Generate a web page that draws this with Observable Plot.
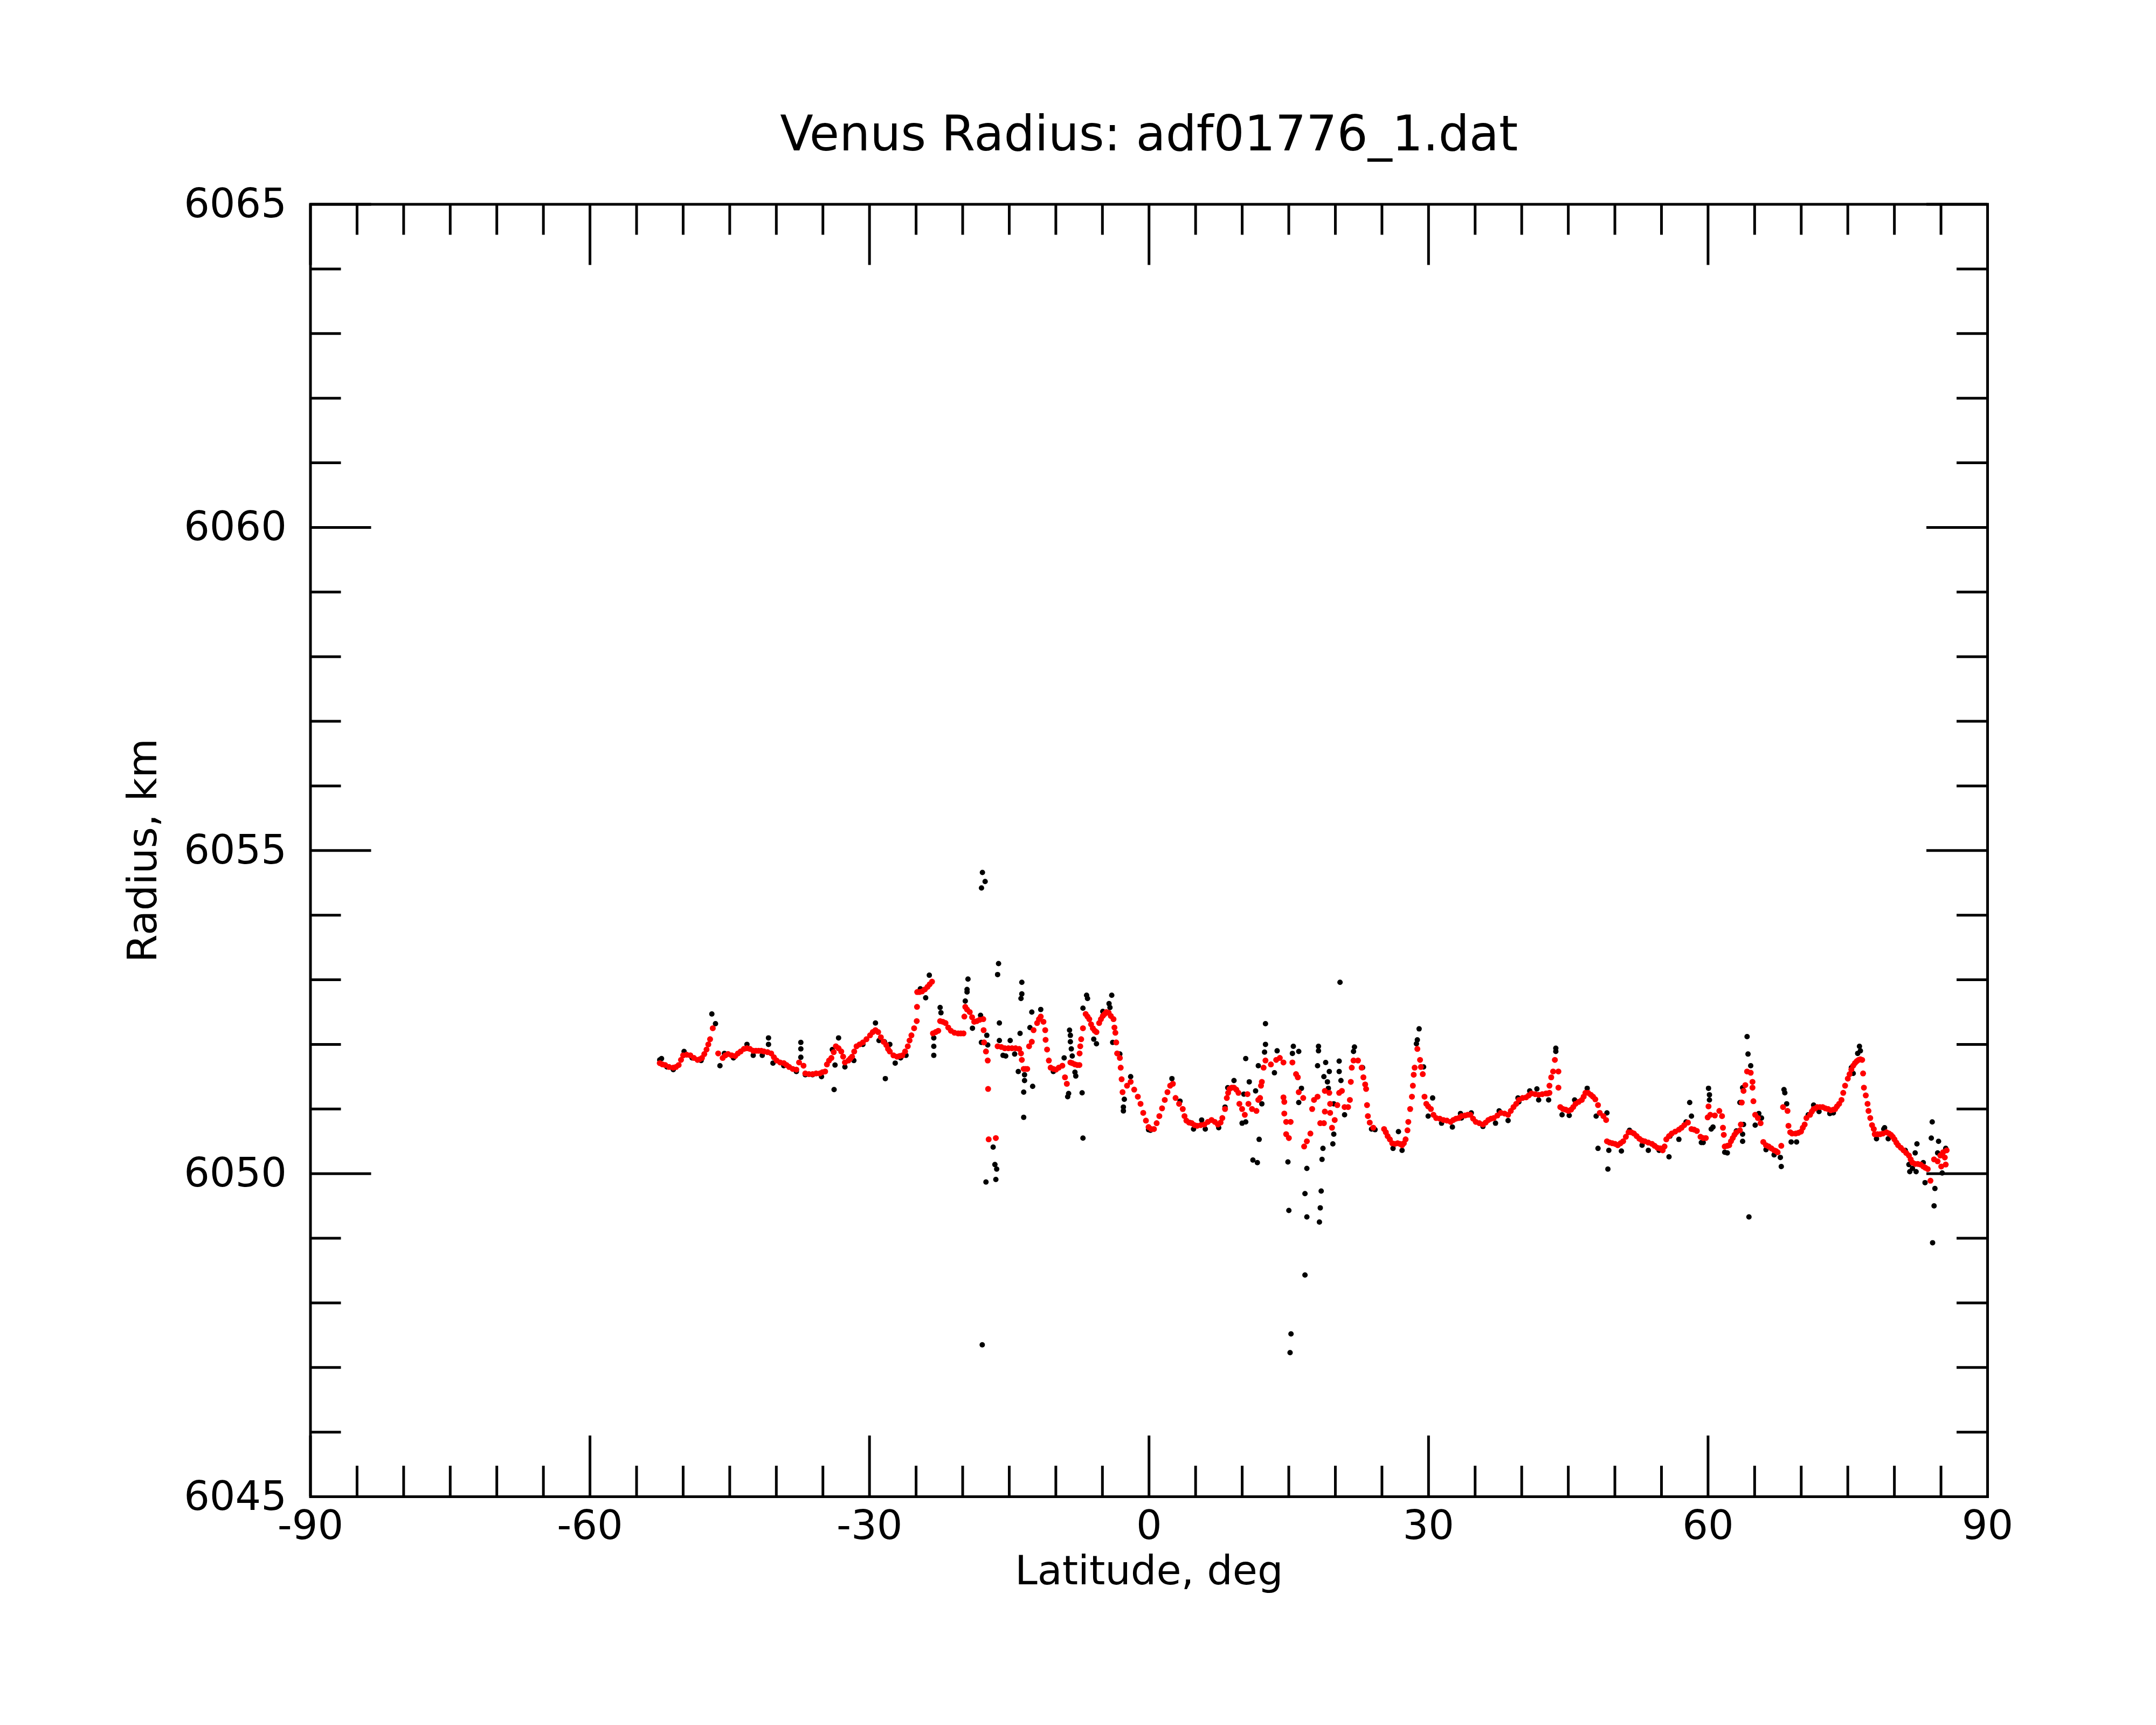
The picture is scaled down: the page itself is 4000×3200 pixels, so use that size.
<!DOCTYPE html>
<html>
<head>
<meta charset="utf-8">
<script src="https://cdn.jsdelivr.net/npm/d3@7"></script>
<script src="https://cdn.jsdelivr.net/npm/@observablehq/plot@0.6"></script>
<style>
html, body { margin: 0; padding: 0; background: #ffffff; }
#chart svg { display: block; }
</style>
</head>
<body>
<div id="chart"></div>
<script>
// ---- text ----
const title = "Venus Radius: adf01776_1.dat";
const xLabel = "Latitude, deg";
const yLabel = "Radius, km";

// ---- ticks ----
const xMajorTicks = [-90, -60, -30, 0, 30, 60, 90];
const xMinorTicks = [-85, -80, -75, -70, -65, -55, -50, -45, -40, -35, -25, -20, -15, -10, -5,
                     5, 10, 15, 20, 25, 35, 40, 45, 50, 55, 65, 70, 75, 80, 85];
const yMajorTicks = [6045, 6050, 6055, 6060, 6065];
const yMinorTicks = [6046, 6047, 6048, 6049, 6051, 6052, 6053, 6054, 6056, 6057, 6058, 6059,
                     6061, 6062, 6063, 6064];

// ---- red series: [latitude (deg), radius (km)] ----
const redPoints = [
  [-52.51,6051.71],[-52.22,6051.69],[-51.93,6051.68],[-51.51,6051.65],[-51.06,6051.64],[-50.77,6051.65],
  [-50.48,6051.68],[-50.23,6051.76],[-50.00,6051.83],[-49.62,6051.84],[-49.23,6051.83],[-48.84,6051.79],
  [-48.46,6051.76],[-48.23,6051.77],[-47.98,6051.79],[-47.73,6051.85],[-47.49,6051.92],[-47.30,6052.00],
  [-47.11,6052.08],[-46.82,6052.25],[-46.24,6051.86],[-45.76,6051.79],[-45.47,6051.83],[-45.18,6051.85],
  [-44.79,6051.83],[-44.41,6051.82],[-44.12,6051.86],[-43.83,6051.89],[-43.48,6051.93],[-43.15,6051.94],
  [-42.83,6051.93],[-42.48,6051.90],[-42.19,6051.90],[-41.90,6051.90],[-41.61,6051.90],[-41.32,6051.89],
  [-40.94,6051.88],[-40.55,6051.86],[-40.26,6051.80],[-39.97,6051.75],[-39.59,6051.72],[-39.20,6051.71],
  [-38.91,6051.68],[-38.62,6051.65],[-38.24,6051.62],[-37.85,6051.61],[-37.56,6051.72],[-37.08,6051.67],
  [-36.89,6051.55],[-36.50,6051.54],[-36.11,6051.54],[-35.73,6051.55],[-35.34,6051.55],[-35.05,6051.57],
  [-34.76,6051.58],[-34.57,6051.69],[-34.34,6051.75],[-34.09,6051.79],[-33.84,6051.88],[-33.61,6051.97],
  [-33.32,6051.94],[-33.03,6051.89],[-32.83,6051.81],[-32.64,6051.72],[-32.26,6051.75],[-32.06,6051.78],
  [-31.87,6051.81],[-31.64,6051.89],[-31.39,6051.97],[-31.06,6052.00],[-30.71,6052.03],[-30.33,6052.08],
  [-29.94,6052.14],[-29.65,6052.19],[-29.36,6052.22],[-29.07,6052.19],[-28.78,6052.11],[-28.49,6052.04],
  [-28.20,6051.99],[-28.01,6051.93],[-27.82,6051.89],[-27.43,6051.83],[-27.05,6051.81],[-26.76,6051.82],
  [-26.47,6051.83],[-26.18,6051.89],[-25.89,6051.97],[-25.70,6052.06],[-25.50,6052.14],[-25.21,6052.25],
  [-24.93,6052.36],[-24.90,6052.58],[-24.88,6052.81],[-24.64,6052.81],[-24.35,6052.82],[-24.06,6052.85],
  [-23.77,6052.89],[-23.54,6052.93],[-23.29,6052.97],[-23.19,6052.17],[-22.90,6052.19],[-22.62,6052.21],
  [-22.42,6052.36],[-22.13,6052.35],[-21.84,6052.33],[-21.55,6052.26],[-21.26,6052.21],[-20.88,6052.18],
  [-20.49,6052.17],[-20.20,6052.17],[-19.91,6052.17],[-19.82,6052.43],[-19.72,6052.58],[-19.53,6052.54],
  [-19.24,6052.50],[-18.99,6052.42],[-18.76,6052.35],[-18.47,6052.36],[-18.18,6052.38],[-17.79,6052.39],
  [-17.75,6052.22],[-17.70,6052.03],[-17.50,6051.89],[-17.31,6051.75],[-17.27,6051.31],[-17.21,6050.53],
  [-16.44,6050.55],[-16.25,6051.97],[-15.86,6051.96],[-15.48,6051.94],[-15.09,6051.94],[-14.71,6051.94],
  [-14.32,6051.94],[-13.93,6051.93],[-13.74,6051.86],[-13.65,6051.76],[-13.45,6051.62],[-13.26,6051.62],
  [-13.07,6051.62],[-12.87,6051.97],[-12.58,6052.04],[-12.39,6052.22],[-12.01,6052.33],[-11.81,6052.39],
  [-11.62,6052.43],[-11.33,6052.35],[-11.14,6052.22],[-11.10,6052.07],[-10.94,6051.92],[-10.75,6051.75],
  [-10.56,6051.64],[-10.27,6051.62],[-9.98,6051.61],[-9.69,6051.64],[-9.30,6051.67],[-9.02,6051.49],
  [-8.82,6051.39],[-8.44,6051.72],[-8.24,6051.71],[-7.95,6051.69],[-7.70,6051.68],[-7.47,6051.68],
  [-7.45,6051.86],[-7.38,6051.97],[-7.28,6052.08],[-7.09,6052.25],[-6.80,6052.47],[-6.60,6052.43],
  [-6.41,6052.39],[-6.22,6052.31],[-6.03,6052.25],[-5.83,6052.21],[-5.64,6052.19],[-5.35,6052.33],
  [-5.16,6052.39],[-4.96,6052.44],[-4.77,6052.47],[-4.58,6052.50],[-4.33,6052.49],[-4.10,6052.44],
  [-3.81,6052.39],[-3.71,6052.26],[-3.61,6052.18],[-3.52,6052.03],[-3.42,6051.86],[-3.13,6051.79],
  [-3.04,6051.64],[-2.94,6051.46],[-2.84,6051.26],[-2.36,6051.36],[-1.97,6051.42],[-1.59,6051.30],
  [-1.20,6051.19],[-0.91,6051.08],[-0.62,6050.94],[-0.33,6050.82],[-0.05,6050.72],[0.24,6050.69],
  [0.53,6050.69],[0.82,6050.78],[1.11,6050.89],[1.40,6051.01],[1.69,6051.14],[1.98,6051.26],
  [2.27,6051.36],[2.56,6051.39],[2.85,6051.17],[3.23,6051.08],[3.62,6051.00],[3.81,6050.89],
  [4.01,6050.82],[4.30,6050.79],[4.59,6050.78],[4.88,6050.75],[5.17,6050.74],[5.55,6050.75],
  [5.94,6050.76],[6.32,6050.80],[6.71,6050.83],[7.06,6050.80],[7.39,6050.76],[7.68,6050.79],
  [7.87,6050.86],[8.16,6051.00],[8.35,6051.17],[8.49,6051.25],[8.64,6051.31],[8.87,6051.33],
  [9.12,6051.33],[9.37,6051.30],[9.60,6051.25],[9.70,6051.08],[9.99,6051.00],[10.28,6050.91],
  [10.67,6051.08],[10.57,6051.23],[11.05,6051.00],[11.53,6050.97],[11.73,6051.14],[11.92,6051.17],
  [12.02,6051.36],[12.11,6051.42],[12.30,6051.64],[12.50,6051.75],[13.08,6051.69],[13.65,6051.76],
  [14.04,6051.79],[14.43,6051.72],[14.43,6051.18],[14.52,6051.11],[14.52,6050.93],[14.72,6050.80],
  [15.20,6050.80],[14.72,6050.61],[15.01,6050.55],[15.39,6051.72],[15.78,6051.54],[15.97,6051.49],
  [16.07,6051.26],[16.55,6051.17],[16.65,6050.42],[16.94,6050.50],[17.32,6050.62],[17.51,6051.00],
  [17.71,6051.14],[18.09,6051.19],[18.38,6050.78],[18.77,6050.78],[18.87,6051.28],[19.35,6051.25],
  [18.87,6050.96],[19.44,6051.08],[19.44,6050.94],[19.64,6050.71],[19.93,6050.83],[20.21,6051.06],
  [20.41,6051.25],[20.70,6051.28],[20.99,6051.03],[21.37,6051.03],[21.56,6051.14],[21.66,6051.42],
  [21.76,6051.64],[21.95,6051.75],[22.43,6051.75],[22.82,6051.64],[23.01,6051.49],[23.20,6051.38],
  [23.30,6051.31],[23.40,6051.06],[23.49,6050.89],[23.69,6050.79],[24.07,6050.71],[25.23,6050.69],
  [25.42,6050.64],[25.61,6050.58],[25.85,6050.53],[26.10,6050.47],[26.39,6050.46],[26.68,6050.47],
  [26.93,6050.46],[27.16,6050.44],[27.35,6050.47],[27.54,6050.53],[27.74,6050.67],[27.83,6050.80],
  [28.03,6051.00],[28.22,6051.19],[28.32,6051.36],[28.41,6051.53],[28.51,6051.64],[28.80,6051.93],
  [29.09,6051.76],[29.18,6051.65],[29.38,6051.54],[29.57,6051.19],[29.76,6051.08],[29.96,6051.04],
  [30.25,6051.00],[30.53,6050.91],[30.82,6050.86],[31.21,6050.85],[31.60,6050.83],[31.98,6050.82],
  [32.37,6050.80],[32.66,6050.83],[32.95,6050.85],[33.24,6050.86],[33.53,6050.89],[33.91,6050.90],
  [34.20,6050.91],[34.49,6050.91],[34.78,6050.85],[35.07,6050.80],[35.46,6050.78],[35.84,6050.76],
  [36.13,6050.79],[36.42,6050.83],[36.71,6050.85],[37.00,6050.86],[37.39,6050.90],[37.77,6050.94],
  [38.16,6050.93],[38.54,6050.91],[38.83,6050.97],[39.12,6051.03],[39.41,6051.08],[39.70,6051.14],
  [40.09,6051.17],[40.47,6051.18],[40.76,6051.21],[41.05,6051.24],[41.44,6051.23],[41.82,6051.22],
  [42.21,6051.23],[42.60,6051.24],[42.79,6051.24],[42.98,6051.25],[42.98,6051.36],[43.17,6051.49],
  [43.37,6051.58],[43.56,6051.76],[43.94,6051.58],[43.94,6051.33],[44.14,6051.03],[44.43,6051.00],
  [44.72,6050.99],[45.01,6050.97],[45.30,6050.99],[45.53,6051.03],[45.78,6051.08],[46.11,6051.11],
  [46.45,6051.14],[46.65,6051.19],[46.84,6051.25],[47.13,6051.25],[47.42,6051.22],[47.65,6051.19],
  [47.90,6051.15],[48.19,6051.06],[48.38,6050.94],[48.77,6050.89],[49.06,6050.83],[49.15,6050.50],
  [49.44,6050.48],[49.73,6050.47],[50.02,6050.46],[50.31,6050.44],[50.60,6050.47],[50.89,6050.50],
  [51.18,6050.57],[51.47,6050.64],[51.76,6050.64],[52.05,6050.62],[52.34,6050.58],[52.63,6050.54],
  [52.92,6050.51],[53.21,6050.50],[53.59,6050.48],[53.98,6050.46],[54.27,6050.43],[54.56,6050.40],
  [54.85,6050.39],[55.13,6050.36],[55.33,6050.42],[55.52,6050.53],[55.81,6050.58],[56.10,6050.62],
  [56.48,6050.65],[56.87,6050.68],[57.16,6050.71],[57.45,6050.75],[57.84,6050.79],[58.22,6050.69],
  [58.51,6050.68],[58.80,6050.66],[59.19,6050.57],[59.48,6050.55],[59.76,6050.55],[60.05,6051.04],
  [59.96,6050.87],[60.24,6050.91],[60.73,6050.90],[61.21,6050.97],[61.50,6050.89],[61.60,6050.71],
  [61.69,6050.60],[61.79,6050.42],[62.07,6050.43],[62.27,6050.44],[62.46,6050.50],[62.65,6050.55],
  [62.84,6050.60],[63.04,6050.64],[63.42,6050.67],[63.52,6050.76],[63.62,6051.10],[63.81,6051.28],
  [64.00,6051.37],[64.19,6051.58],[64.58,6051.56],[64.77,6051.42],[64.77,6051.33],[64.87,6051.12],
  [65.06,6050.91],[65.35,6050.86],[65.64,6050.78],[65.93,6050.49],[66.22,6050.44],[66.51,6050.42],
  [66.80,6050.39],[67.09,6050.36],[67.28,6050.35],[67.47,6050.33],[67.86,6050.43],[68.05,6051.03],
  [68.53,6050.97],[68.63,6050.74],[68.82,6050.64],[69.02,6050.62],[69.40,6050.62],[69.69,6050.63],
  [69.98,6050.65],[70.17,6050.71],[70.37,6050.76],[70.56,6050.86],[70.95,6050.91],[71.14,6050.96],
  [71.33,6051.00],[71.53,6051.01],[71.72,6051.03],[72.01,6051.03],[72.30,6051.03],[72.59,6051.01],
  [72.88,6051.00],[73.17,6050.98],[73.45,6050.99],[73.65,6051.00],[73.84,6051.04],[74.07,6051.08],
  [74.32,6051.14],[74.51,6051.25],[74.71,6051.36],[75.00,6051.47],[75.19,6051.54],[75.38,6051.61],
  [75.58,6051.67],[75.77,6051.71],[75.96,6051.74],[76.16,6051.76],[76.35,6051.77],[76.54,6051.76],
  [76.64,6051.55],[76.73,6051.33],[76.93,6051.21],[77.12,6051.08],[77.22,6050.97],[77.41,6050.86],
  [77.60,6050.75],[77.79,6050.69],[77.89,6050.61],[78.18,6050.61],[78.47,6050.61],[78.76,6050.62],
  [79.15,6050.64],[79.43,6050.62],[79.63,6050.60],[79.82,6050.57],[80.01,6050.53],[80.21,6050.48],
  [80.40,6050.44],[80.69,6050.40],[80.98,6050.36],[81.27,6050.32],[81.56,6050.28],[81.75,6050.22],
  [81.94,6050.17],[82.23,6050.15],[82.52,6050.15],[82.81,6050.14],[83.10,6050.11],[83.33,6050.09],
  [83.58,6050.07],[83.87,6049.89],[84.26,6050.22],[84.64,6050.19],[84.93,6050.28],[85.03,6050.11],
  [85.22,6050.33],[85.41,6050.25],[85.51,6050.14],[85.61,6050.36]
];

// ---- black series: [latitude (deg), radius (km)] ----
const blackPoints = [
  [-52.51,6051.76],[-52.32,6051.78],[-51.74,6051.65],[-51.06,6051.61],[-49.90,6051.89],[-49.04,6051.79],
  [-48.07,6051.75],[-46.92,6052.47],[-46.53,6052.32],[-46.05,6051.67],[-45.57,6051.86],[-44.60,6051.79],
  [-43.15,6052.00],[-42.48,6051.83],[-41.51,6051.83],[-40.84,6052.10],[-40.84,6052.00],[-40.36,6051.71],
  [-39.20,6051.67],[-37.85,6051.58],[-37.37,6052.03],[-37.37,6051.93],[-37.37,6051.80],[-36.89,6051.53],
  [-36.11,6051.53],[-35.15,6051.50],[-33.99,6051.92],[-33.80,6051.30],[-33.70,6051.68],[-33.32,6052.10],
  [-32.64,6051.65],[-31.68,6051.75],[-30.71,6052.00],[-29.36,6052.33],[-28.98,6052.06],[-28.40,6052.04],
  [-28.30,6051.47],[-27.82,6052.00],[-27.24,6051.71],[-26.66,6051.79],[-26.08,6051.83],
  [-24.54,6052.86],[-23.97,6052.72],[-23.58,6053.07],[-23.10,6052.10],[-23.10,6051.97],[-23.10,6051.83],
  [-22.42,6052.57],[-22.33,6052.49],[-19.72,6052.67],[-19.53,6052.85],[-19.53,6052.81],[-19.43,6053.01],
  [-18.95,6052.25],[-18.08,6052.45],[-17.99,6052.03],[-17.41,6052.14],[-17.31,6051.99],[-16.73,6050.41],
  [-16.54,6050.14],[-16.35,6050.07],[-16.44,6049.91],[-17.50,6049.87],[-17.90,6047.35],
  [-17.88,6054.66],[-17.59,6054.52],[-17.98,6054.42],[-16.15,6053.25],[-16.25,6053.08],
  [-16.06,6052.33],[-16.06,6052.06],[-15.67,6051.83],[-15.38,6051.82],[-14.90,6052.06],[-14.42,6051.85],
  [-14.03,6051.58],[-13.84,6052.17],[-13.74,6052.71],[-13.65,6052.96],[-13.65,6052.78],[-13.45,6050.87],
  [-13.45,6051.26],[-13.36,6051.44],[-13.36,6051.53],[-12.78,6052.26],[-12.58,6052.50],[-12.49,6051.35],
  [-11.62,6052.54],[-10.27,6051.58],[-9.11,6051.79],[-8.73,6051.19],[-8.63,6051.24],[-8.53,6052.22],
  [-8.44,6052.14],[-8.44,6052.04],[-8.34,6051.93],[-8.24,6051.82],[-7.95,6051.57],[-7.86,6051.51],
  [-7.18,6051.25],[-7.09,6050.55],[-7.09,6052.56],[-6.70,6052.76],[-6.60,6052.71],[-5.93,6052.08],
  [-5.64,6052.01],[-4.96,6052.51],[-4.29,6052.63],[-4.19,6052.57],[-4.00,6052.76],[-3.90,6052.03],
  [-3.13,6051.85],[-2.75,6051.03],[-2.75,6050.97],[-2.65,6051.15],[-1.97,6051.50],[-0.05,6050.68],
  [0.15,6050.67],[2.46,6051.47],[3.33,6051.12],
  [4.40,6050.79],[4.78,6050.69],[5.65,6050.83],[6.04,6050.69],[7.48,6050.71],[8.16,6051.03],
  [8.45,6051.33],[9.12,6051.44],[9.99,6050.78],[10.18,6051.23],[10.38,6050.80],[10.38,6051.78],
  [10.76,6051.42],[11.15,6050.21],[11.44,6051.28],[11.63,6050.17],[11.73,6051.67],[11.82,6050.53],
  [12.11,6051.08],[12.40,6051.88],[12.50,6052.00],[12.50,6052.32],[13.46,6051.56],[13.75,6051.90],
  [14.91,6050.18],[15.01,6049.43],[15.14,6047.23],[15.24,6047.52],[15.39,6051.86],[15.49,6051.97],
  [16.07,6051.89],[16.07,6051.10],[16.36,6051.32],[16.74,6049.69],[16.74,6048.43],[16.94,6050.08],
  [16.94,6049.33],[18.09,6051.67],[18.19,6051.97],[18.19,6051.90],[18.29,6049.25],[18.38,6049.47],
  [18.48,6049.73],[18.57,6050.22],[18.67,6050.39],[18.77,6051.50],[18.96,6051.72],[19.15,6051.42],
  [19.25,6051.32],[19.35,6051.58],[19.73,6050.46],[19.83,6050.61],[19.83,6051.08],[20.41,6051.74],
  [20.41,6051.58],[20.50,6052.96],[20.60,6051.44],[20.99,6050.91],[21.95,6051.89],[22.05,6051.96],
  [22.92,6051.64],[23.88,6050.69],[24.26,6050.68],[26.19,6050.39],[26.77,6050.65],[27.16,6050.36],
  [28.70,6052.01],[28.80,6052.07],[28.99,6052.24],[29.47,6051.65],[29.96,6050.89],[30.44,6051.17],
  [31.40,6050.78],[32.56,6050.72],
  [33.43,6050.93],[33.53,6050.86],[34.59,6050.94],[35.84,6050.73],[37.19,6050.78],[37.58,6050.97],
  [38.54,6050.82],[39.60,6051.17],[39.70,6051.11],[40.86,6051.28],[41.63,6051.31],[41.82,6051.14],
  [42.89,6051.14],[43.66,6051.94],[43.66,6051.89],[44.33,6050.91],[45.10,6050.90],[45.68,6051.14],
  [47.03,6051.32],[47.99,6050.89],[48.19,6050.39],[49.15,6050.94],[49.25,6050.07],[49.35,6050.36],
  [50.70,6050.35],[51.57,6050.67],[52.92,6050.44],[53.59,6050.36],[54.75,6050.36],[55.81,6050.26],
  [55.91,6050.58],[56.87,6050.53],[57.64,6050.80],[58.03,6051.10],[58.22,6050.89],[59.28,6050.48],
  [59.48,6050.48],[60.05,6051.32],[60.15,6051.22],[60.15,6051.14],[60.34,6050.69],[60.53,6050.72],
  [61.79,6050.33],
  [62.07,6050.32],[63.04,6050.66],[63.42,6051.10],[63.71,6051.33],[63.71,6050.61],[63.71,6050.50],
  [63.81,6050.76],[64.19,6052.12],[64.29,6051.85],[64.39,6049.33],[64.58,6051.67],[65.06,6050.75],
  [65.45,6050.93],[65.74,6050.86],[66.22,6050.37],[67.09,6050.29],[67.76,6050.25],[67.86,6050.11],
  [68.15,6051.30],[68.24,6051.25],[68.44,6051.08],[68.92,6050.49],[69.50,6050.49],[70.75,6050.91],
  [71.33,6051.06],[71.91,6050.96],[73.07,6050.93],[73.45,6050.94],[75.38,6051.64],[75.58,6051.55],
  [76.06,6051.86],[76.25,6051.97],[76.35,6051.90],[78.08,6050.54],[78.86,6050.69],[78.95,6050.71],
  [79.34,6050.54],[81.17,6050.36],[81.56,6050.14],[81.65,6050.03],[81.94,6050.08],[82.23,6050.32],
  [82.33,6050.03],[82.42,6050.46],[83.10,6050.17],[83.29,6049.86],[83.96,6050.55],[84.06,6050.80],
  [84.10,6048.93],[84.26,6049.50],[84.35,6049.77],[84.64,6050.32],[84.74,6050.50],[85.13,6050.01],
  [85.51,6050.39]
];

// ---- layout / style ----
const W = 4000, H = 3200;
const mL = 575.5, mR = 313, mT = 378.5, mB = 424;
const innerW = W - mL - mR, innerH = H - mT - mB;
const majorLen = 113, minorLen = 57, lineW = 5;
const font = "DejaVu Sans";

const red = redPoints.map(([lat, r]) => ({lat, r}));
const black = blackPoints.map(([lat, r]) => ({lat, r}));
const tickStyle = {stroke: "black", strokeWidth: lineW};

const chart = Plot.plot({
  width: W,
  height: H,
  marginLeft: mL,
  marginRight: mR,
  marginTop: mT,
  marginBottom: mB,
  style: {fontFamily: font, fontSize: "75px", background: "white", color: "black"},
  x: {domain: [-90, 90], axis: null},
  y: {domain: [6045, 6065], axis: null},
  marks: [
    Plot.dot(black, {x: "lat", y: "r", r: 5, fill: "black", stroke: "none"}),
    Plot.dot(red, {x: "lat", y: "r", r: 5.5, fill: "#ff0000", stroke: "none"}),
    // bottom ticks (inward)
    Plot.ruleX(xMajorTicks, {x: d => d, insetTop: innerH - majorLen, ...tickStyle}),
    Plot.ruleX(xMinorTicks, {x: d => d, insetTop: innerH - minorLen, ...tickStyle}),
    // top ticks (inward)
    Plot.ruleX(xMajorTicks, {x: d => d, insetBottom: innerH - majorLen, ...tickStyle}),
    Plot.ruleX(xMinorTicks, {x: d => d, insetBottom: innerH - minorLen, ...tickStyle}),
    // left ticks (inward)
    Plot.ruleY(yMajorTicks, {y: d => d, insetRight: innerW - majorLen, ...tickStyle}),
    Plot.ruleY(yMinorTicks, {y: d => d, insetRight: innerW - minorLen, ...tickStyle}),
    // right ticks (inward)
    Plot.ruleY(yMajorTicks, {y: d => d, insetLeft: innerW - majorLen, ...tickStyle}),
    Plot.ruleY(yMinorTicks, {y: d => d, insetLeft: innerW - minorLen, ...tickStyle}),
    Plot.frame({stroke: "black", strokeWidth: lineW}),
    Plot.axisX({ticks: xMajorTicks, tickSize: 0, tickPadding: 25, tickFormat: d => String(d),
                fontSize: 75, label: null, fill: "black"}),
    Plot.axisY({ticks: yMajorTicks, tickSize: 0, tickPadding: 44, tickFormat: d => String(d),
                fontSize: 75, label: null, fill: "black"}),
    Plot.text([title], {text: d => d, frameAnchor: "top", lineAnchor: "middle", textAnchor: "middle",
                        dy: 250 - mT, fontSize: 90, fill: "black"}),
    Plot.text([xLabel], {text: d => d, frameAnchor: "bottom", lineAnchor: "middle", textAnchor: "middle",
                         dy: 138, fontSize: 75, fill: "black"}),
    Plot.text([yLabel], {text: d => d, frameAnchor: "left", lineAnchor: "middle", textAnchor: "middle",
                         dx: 265 - mL, rotate: -90, fontSize: 75, fill: "black"})
  ]
});

document.getElementById("chart").appendChild(chart);
</script>
</body>
</html>
